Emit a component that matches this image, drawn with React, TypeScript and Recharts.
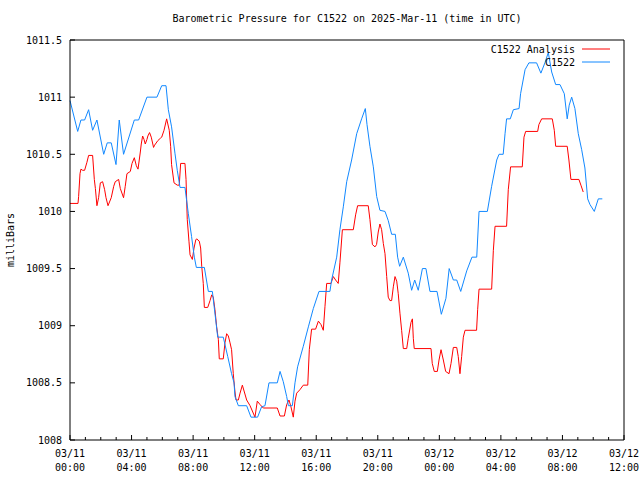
import { LineChart, Line, XAxis, YAxis, Legend, Label } from "recharts";

const FONT = "'DejaVu Sans Mono', 'Liberation Mono', monospace";
const RED = "#ff0000";
const BLUE = "#1188ff";

// hours since 03/11 00:00 UTC
const stationHours = [
  0, 0.5, 0.71, 0.95, 1.21, 1.47, 1.75, 2.19, 2.42, 2.68, 2.99, 3.2, 3.48, 4.18, 4.46, 5.0, 5.65, 5.96, 6.24,
  6.39, 6.6, 6.82, 6.97, 7.15, 7.47, 7.69, 7.9, 8.08, 8.21, 8.73, 8.99, 9.25, 9.47, 9.6, 9.96, 10.25, 10.5,
  10.66, 10.72, 10.94, 11.48, 11.76, 12.19, 12.45, 12.67, 12.93, 13.47, 13.65, 13.86, 14.08, 14.19, 14.45,
  14.62, 14.79, 15.16, 15.49, 15.81, 16.18, 16.89, 17.0, 17.33, 17.54, 17.76, 17.98, 18.3, 18.63, 18.95,
  19.19, 19.3, 19.49, 19.71, 19.93, 20.14, 20.47, 20.68, 20.9, 21.14, 21.29, 21.42, 21.66, 21.98, 22.2,
  22.4, 22.63, 22.9, 23.13, 23.39, 23.85, 24.13, 24.43, 24.64, 24.91, 25.13, 25.39, 25.78, 26.12, 26.43,
  26.58, 27.12, 27.4, 27.73, 27.88, 28.15, 28.27, 28.37, 28.61, 28.81, 29.18, 29.28, 29.57, 29.82, 30.32,
  30.6, 30.86, 31.08, 31.3, 31.56, 31.84, 32.12, 32.31, 32.44, 32.6, 32.81, 33.03, 33.25, 33.46, 33.64,
  33.79, 34.07, 34.33, 34.59,
];
const stationValues = [
  1010.97, 1010.7, 1010.8, 1010.8, 1010.89, 1010.71, 1010.8, 1010.5, 1010.6, 1010.6, 1010.41, 1010.8,
  1010.5, 1010.8, 1010.8, 1011.0, 1011.0, 1011.1, 1011.1, 1010.89, 1010.74, 1010.51, 1010.36, 1010.21,
  1010.21, 1009.98, 1009.78, 1009.6, 1009.51, 1009.51, 1009.3, 1009.3, 1009.05, 1008.9, 1008.9, 1008.73,
  1008.58, 1008.5, 1008.38, 1008.3, 1008.3, 1008.2, 1008.2, 1008.29, 1008.3, 1008.5, 1008.5, 1008.6,
  1008.51, 1008.38, 1008.3, 1008.3, 1008.5, 1008.64, 1008.82, 1008.99, 1009.15, 1009.3, 1009.3, 1009.4,
  1009.6, 1009.84, 1010.04, 1010.26, 1010.45, 1010.68, 1010.81, 1010.9, 1010.76, 1010.57, 1010.39, 1010.13,
  1010.01, 1010.0, 1009.92, 1009.8, 1009.8, 1009.6, 1009.52, 1009.6, 1009.46, 1009.31, 1009.4, 1009.31,
  1009.5, 1009.5, 1009.3, 1009.3, 1009.1, 1009.24, 1009.5, 1009.4, 1009.4, 1009.3, 1009.48, 1009.6, 1009.6,
  1010.0, 1010.0, 1010.22, 1010.45, 1010.5, 1010.5, 1010.68, 1010.81, 1010.81, 1010.89, 1010.9, 1011.03,
  1011.24, 1011.3, 1011.3, 1011.21, 1011.3, 1011.39, 1011.22, 1011.11, 1011.11, 1011.03, 1010.81, 1010.93,
  1011.0, 1010.9, 1010.68, 1010.54, 1010.38, 1010.11, 1010.06, 1010.0, 1010.11, 1010.11,
];

const analysisHours = [
  0, 0.52, 0.56, 0.65, 0.71, 0.82, 0.95, 1.1, 1.21, 1.47, 1.58, 1.65, 1.75, 1.86, 1.97, 2.12, 2.25, 2.34,
  2.47, 2.68, 2.84, 2.94, 3.16, 3.27, 3.48, 3.59, 3.7, 3.92, 4.03, 4.18, 4.31, 4.42, 4.57, 4.63, 4.72, 4.81,
  4.89, 5.0, 5.06, 5.17, 5.28, 5.43, 5.5, 5.71, 5.87, 5.96, 6.11, 6.28, 6.45, 6.54, 6.6, 6.76, 6.97, 7.1,
  7.19, 7.47, 7.54, 7.62, 7.73, 7.8, 7.95, 8.06, 8.17, 8.23, 8.4, 8.49, 8.56, 8.66, 8.73, 8.95, 9.1, 9.21,
  9.31, 9.42, 9.53, 9.64, 9.7, 9.96, 10.07, 10.18, 10.29, 10.4, 10.5, 10.61, 10.72, 10.79, 10.94, 11.05,
  11.2, 11.33, 11.48, 11.7, 12.02, 12.17, 12.35, 12.56, 13.47, 13.65, 13.93, 14.08, 14.23, 14.36, 14.51,
  14.62, 14.73, 14.94, 15.16, 15.45, 15.55, 15.7, 15.96, 16.14, 16.31, 16.46, 16.57, 16.68, 16.96, 17.11,
  17.26, 17.43, 17.54, 17.7, 18.41, 18.56, 18.69, 19.38, 19.49, 19.65, 19.82, 19.92, 20.03, 20.14, 20.25,
  20.36, 20.47, 20.58, 20.68, 20.79, 20.9, 21.01, 21.12, 21.23, 21.33, 21.44, 21.55, 21.66, 21.88, 21.98,
  22.16, 22.25, 22.31, 22.37, 23.46, 23.54, 23.67, 23.87, 23.98, 24.11, 24.26, 24.41, 24.63, 24.76, 24.91,
  25.13, 25.23, 25.34, 25.45, 25.56, 25.67, 26.42, 26.49, 26.58, 27.4, 27.51, 27.62, 28.37, 28.48, 28.63,
  29.39, 29.5, 29.61, 30.39, 30.47, 30.65, 31.34, 31.47, 31.56, 32.31, 32.42, 32.55, 33.07, 33.2, 33.35,
];
const analysisValues = [
  1010.07, 1010.07, 1010.13, 1010.33, 1010.37, 1010.36, 1010.36, 1010.43, 1010.49, 1010.49, 1010.28,
  1010.2, 1010.05, 1010.12, 1010.25, 1010.26, 1010.19, 1010.12, 1010.05, 1010.12, 1010.22, 1010.26,
  1010.28, 1010.2, 1010.12, 1010.22, 1010.33, 1010.35, 1010.42, 1010.47, 1010.4, 1010.37, 1010.52,
  1010.59, 1010.66, 1010.63, 1010.59, 1010.63, 1010.66, 1010.69, 1010.65, 1010.56, 1010.58, 1010.62,
  1010.64, 1010.65, 1010.71, 1010.81, 1010.71, 1010.57, 1010.41, 1010.25, 1010.23, 1010.23, 1010.42,
  1010.42, 1010.28, 1009.93, 1009.74, 1009.62, 1009.58, 1009.68, 1009.75, 1009.76, 1009.74, 1009.68,
  1009.52, 1009.37, 1009.16, 1009.16, 1009.22, 1009.27, 1009.25, 1009.14, 1008.99, 1008.88, 1008.71,
  1008.71, 1008.85, 1008.93, 1008.91, 1008.85, 1008.79, 1008.58, 1008.42, 1008.35, 1008.35, 1008.41,
  1008.48, 1008.42, 1008.35, 1008.3, 1008.2, 1008.34, 1008.31, 1008.28, 1008.28, 1008.21, 1008.21,
  1008.31, 1008.35, 1008.29, 1008.2, 1008.34, 1008.41, 1008.44, 1008.48, 1008.48, 1008.79, 1008.97,
  1008.97, 1009.04, 1009.01, 1008.96, 1009.17, 1009.37, 1009.37, 1009.43, 1009.4, 1009.37, 1009.55,
  1009.84, 1009.84, 1009.97, 1010.05, 1010.05, 1009.93, 1009.71, 1009.69, 1009.71, 1009.82, 1009.89,
  1009.84, 1009.72, 1009.63, 1009.43, 1009.25, 1009.22, 1009.22, 1009.34, 1009.43, 1009.39, 1009.28,
  1009.11, 1008.96, 1008.8, 1008.8, 1008.89, 1009.03, 1009.06, 1008.89, 1008.8, 1008.8, 1008.67, 1008.6,
  1008.6, 1008.7, 1008.79, 1008.7, 1008.6, 1008.58, 1008.67, 1008.81, 1008.81, 1008.73, 1008.58, 1008.73,
  1008.9, 1008.96, 1008.96, 1009.14, 1009.32, 1009.32, 1009.66, 1009.87, 1009.87, 1010.19, 1010.39,
  1010.39, 1010.65, 1010.7, 1010.7, 1010.76, 1010.81, 1010.81, 1010.71, 1010.57, 1010.57, 1010.45,
  1010.28, 1010.28, 1010.23, 1010.17,
];

const majorHours = [0, 4, 8, 12, 16, 20, 24, 28, 32, 36];
const tickDates = ["03/11", "03/11", "03/11", "03/11", "03/11", "03/11", "03/12", "03/12", "03/12", "03/12"];
const tickTimes = ["00:00", "04:00", "08:00", "12:00", "16:00", "20:00", "00:00", "04:00", "08:00", "12:00"];
const pressureTicks = [1008, 1008.5, 1009, 1009.5, 1010, 1010.5, 1011, 1011.5];
const hourTicks = Array.from({ length: 37 }, (_, i) => i);

const stationData = stationHours.map((h, i) => ({ hour: h, pressure: stationValues[i] }));
const analysisData = analysisHours.map((h, i) => ({ hour: h, pressure: analysisValues[i] }));

const textStyle = { fontFamily: FONT, fontSize: 10, fill: "#000" };

function BottomTick(props: any) {
  const { x, y, payload } = props;
  const idx = majorHours.indexOf(payload.value);
  const major = idx >= 0;
  return (
    <g>
      <line x1={x} x2={x} y1={y} y2={y - (major ? 5 : 3)} stroke="#000" />
      {major && (
        <text x={x} y={y + 17} textAnchor="middle" style={textStyle}>
          <tspan x={x}>{tickDates[idx]}</tspan>
          <tspan x={x} dy={14}>{tickTimes[idx]}</tspan>
        </text>
      )}
    </g>
  );
}

function TopTick(props: any) {
  const { x, y, payload } = props;
  const major = majorHours.includes(payload.value);
  return <line x1={x} x2={x} y1={y} y2={y + (major ? 5 : 3)} stroke="#000" />;
}

function LeftTick(props: any) {
  const { x, y, payload } = props;
  return (
    <g>
      <line x1={x} x2={x + 5} y1={y} y2={y} stroke="#000" />
      <text x={x - 8} y={y} dy="0.35em" textAnchor="end" style={textStyle}>
        {payload.value}
      </text>
    </g>
  );
}

function RightTick(props: any) {
  const { x, y } = props;
  return <line x1={x} x2={x - 5} y1={y} y2={y} stroke="#000" />;
}

function KeyBox() {
  return (
    <svg width={150} height={30} style={{ display: "block" }}>
      <text x={105} y={10.5} textAnchor="end" style={textStyle}>C1522 Analysis</text>
      <line x1={112} x2={140} y1={7} y2={7} stroke={RED} />
      <text x={105} y={23.5} textAnchor="end" style={textStyle}>C1522</text>
      <line x1={112} x2={140} y1={20} y2={20} stroke={BLUE} />
    </svg>
  );
}

export default function App() {
  return (
    <div style={{ position: "absolute", left: 0, top: 0, background: "#fff" }}>
      <LineChart width={640} height={480} margin={{ top: 30, right: 6, bottom: 0, left: 0 }}>
        <XAxis
          xAxisId="bottom"
          dataKey="hour"
          type="number"
          domain={[0, 36]}
          ticks={hourTicks}
          interval={0}
          height={40}
          stroke="#000"
          tickLine={false}
          tickSize={0}
          tickMargin={0}
          tick={BottomTick}
        />
        <XAxis
          xAxisId="top"
          orientation="top"
          dataKey="hour"
          type="number"
          domain={[0, 36]}
          ticks={hourTicks}
          interval={0}
          height={10}
          stroke="#000"
          tickLine={false}
          tickSize={0}
          tickMargin={0}
          tick={TopTick}
        >
          <Label
            value="Barometric Pressure for C1522 on 2025-Mar-11 (time in UTC)"
            position="top"
            offset={8}
            style={textStyle}
          />
        </XAxis>
        <YAxis
          yAxisId="left"
          type="number"
          domain={[1008, 1011.5]}
          ticks={pressureTicks}
          interval={0}
          width={70}
          stroke="#000"
          tickLine={false}
          tickSize={0}
          tickMargin={0}
          tick={LeftTick}
        >
          <Label
            value="milliBars"
            angle={-90}
            position="insideLeft"
            offset={10}
            style={{ ...textStyle, textAnchor: "middle" }}
          />
        </YAxis>
        <YAxis
          yAxisId="right"
          orientation="right"
          type="number"
          domain={[1008, 1011.5]}
          ticks={pressureTicks}
          interval={0}
          width={10}
          stroke="#000"
          tickLine={false}
          tickSize={0}
          tickMargin={0}
          tick={RightTick}
        />
        <Legend
          layout="horizontal"
          verticalAlign="middle"
          align="center"
          content={KeyBox}
          wrapperStyle={{ top: 42, left: 470, width: 150, height: 30 }}
        />
        <Line
          xAxisId="bottom"
          yAxisId="left"
          data={analysisData}
          dataKey="pressure"
          name="C1522 Analysis"
          stroke={RED}
          strokeWidth={1}
          dot={false}
          activeDot={false}
          isAnimationActive={false}
        />
        <Line
          xAxisId="bottom"
          yAxisId="left"
          data={stationData}
          dataKey="pressure"
          name="C1522"
          stroke={BLUE}
          strokeWidth={1}
          dot={false}
          activeDot={false}
          isAnimationActive={false}
        />
      </LineChart>
    </div>
  );
}
